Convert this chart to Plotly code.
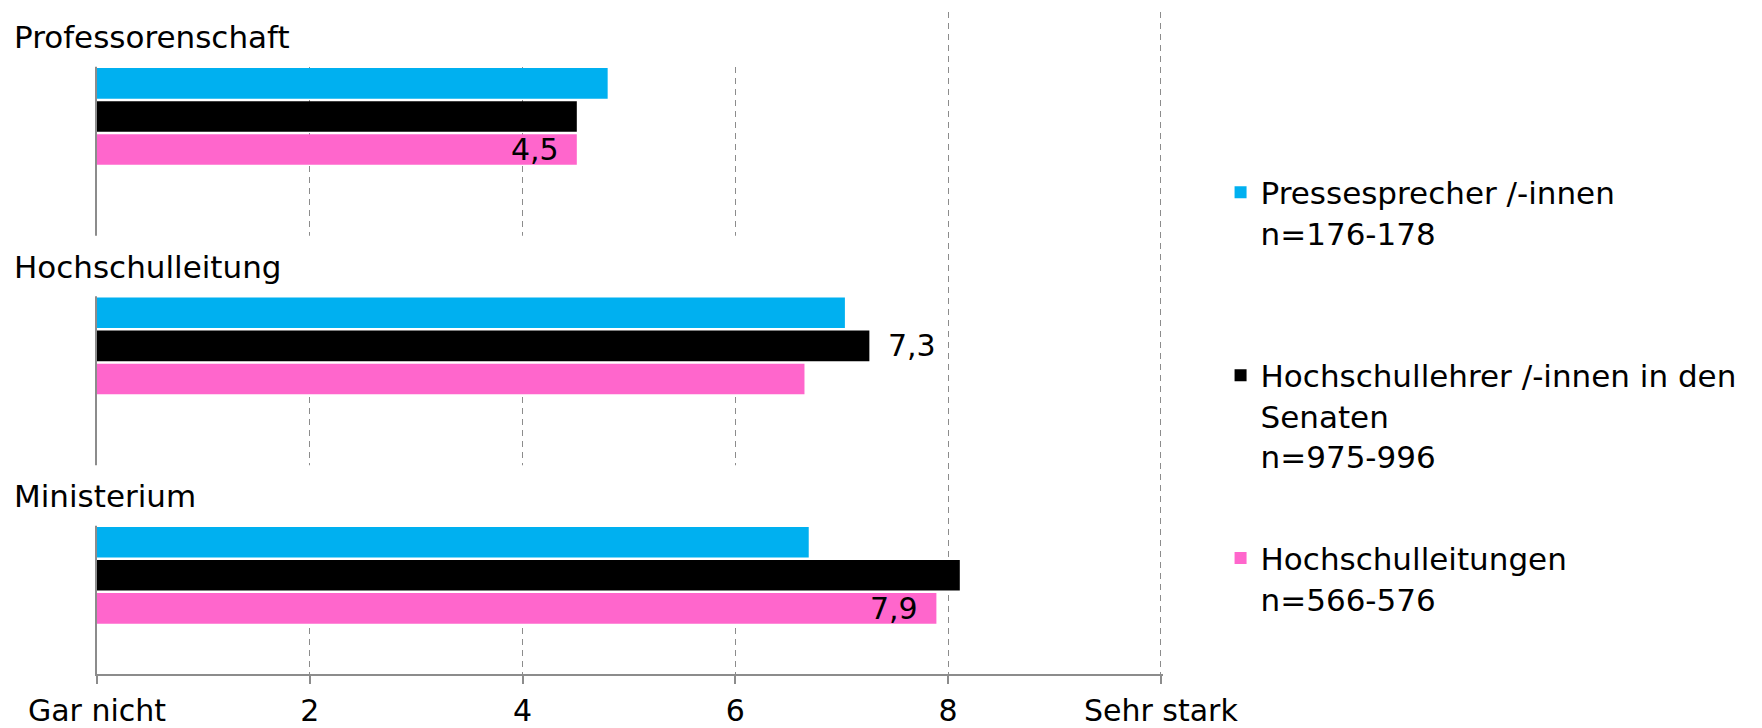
import plotly.graph_objects as go

# ---- data ----
categories = ["Professorenschaft", "Hochschulleitung", "Ministerium"]
series_names = [
    "Pressesprecher /-innen<br>n=176-178",
    "Hochschullehrer /-innen in den<br>Senaten<br>n=975-996",
    "Hochschulleitungen<br>n=566-576",
]
presse = [4.80, 7.03, 6.69]
senate = [4.51, 7.26, 8.11]
leitungen = [4.51, 6.65, 7.89]
colors = ["#00B0F0", "#000000", "#FF66CC"]
tick_vals = [0, 2, 4, 6, 8, 10]
tick_text = ["Gar nicht", "2", "4", "6", "8", "Sehr stark"]
# data labels shown: (series index, category index, position)
labelled = [(2, 0, "inside"), (1, 1, "outside"), (2, 2, "inside")]

series_values = [presse, senate, leitungen]

FONT = "DejaVu Sans"
BARGAP = 0.568
GROUPGAP = 0.076
slot = (1 - BARGAP) / 3

fig = go.Figure()
legend_ids = ["legend", "legend2", "legend3"]
for i, (name, vals, col) in enumerate(zip(series_names, series_values, colors)):
    fig.add_trace(go.Bar(
        y=categories, x=vals, name=name, orientation="h",
        marker=dict(color=col, line=dict(width=0)),
        legend=legend_ids[i], hoverinfo="x+name",
    ))

shapes = []
annotations = []
for k, cat in enumerate(categories):
    # white band behind the category title (hides the inner gridlines and axis line)
    shapes.append(dict(type="rect", xref="paper", yref="y", x0=-0.01, x1=0.7,
                       y0=k - 0.48, y1=k - 0.216, fillcolor="white",
                       line=dict(width=0), layer="above"))
    annotations.append(dict(text=cat, xref="paper", yref="y", x=-0.0795,
                            y=k - 0.345, xanchor="left", yanchor="middle",
                            showarrow=False, font=dict(family=FONT, size=31, color="black")))

for s, k, pos in labelled:
    v = series_values[s][k]
    annotations.append(dict(
        text=f"{v:.1f}".replace(".", ","), xref="x", yref="y",
        x=v, y=k + (s - 1) * slot,
        xanchor="right" if pos == "inside" else "left",
        xshift=-16 if pos == "inside" else 17,
        yanchor="middle", showarrow=False,
        font=dict(family=FONT, size=30, color="black")))

legend_common = dict(x=1.054, xanchor="left", yanchor="top", valign="top",
                     bgcolor="rgba(0,0,0,0)", borderwidth=0,
                     font=dict(family=FONT, size=31, color="black"))

# the page body adds an 8px margin around the figure
fig.update_layout(
    template="none",
    width=1754, height=720,
    margin=dict(l=89, r=599, t=4, b=54, autoexpand=False),
    paper_bgcolor="white", plot_bgcolor="white",
    font=dict(family=FONT, size=30, color="black"),
    barmode="group", bargap=BARGAP, bargroupgap=GROUPGAP,
    showlegend=True,
    legend=dict(y=0.768, **legend_common),
    legend2=dict(y=0.4917, **legend_common),
    legend3=dict(y=0.2153, **legend_common),
    shapes=shapes, annotations=annotations,
    xaxis=dict(range=[0, 10.02], tickvals=tick_vals, ticktext=tick_text,
               automargin=False,
               showgrid=True, gridcolor="#8c8c8c", gridwidth=1.3, griddash="6px,5px",
               zeroline=False, showline=True, linecolor="#8c8c8c", linewidth=1.6,
               ticks="outside", ticklen=8, tickcolor="#8c8c8c", tickwidth=1.6,
               tickfont=dict(family=FONT, size=30, color="black"),
               ticklabelstandoff=1, fixedrange=True),
    yaxis=dict(range=[2.43, -0.455], showticklabels=False, showgrid=False,
               automargin=False,
               zeroline=False, showline=True, linecolor="#8c8c8c", linewidth=1.6,
               ticks="", fixedrange=True),
)

fig.write_html("out.html")
